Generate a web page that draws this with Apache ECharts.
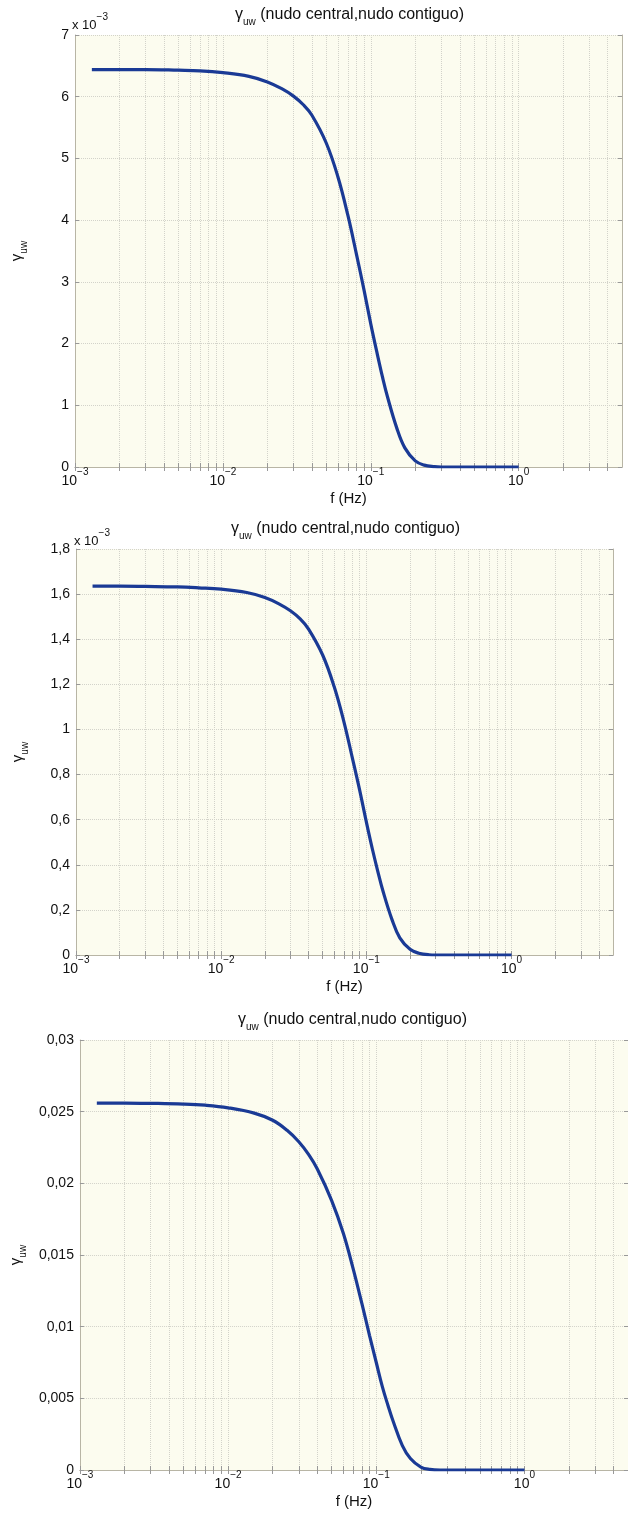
<!DOCTYPE html>
<html>
<head>
<meta charset="utf-8">
<script src="https://cdn.jsdelivr.net/npm/echarts@6/dist/echarts.min.js"></script>
<style>
  html, body { margin: 0; padding: 0; background: #fff; }
  #chart { width: 628px; height: 1514px; }
</style>
</head>
<body>
<div id="chart"></div>
<script>
// frecuencias (Hz), comunes a las tres curvas
const freq = [0.0013, 0.002, 0.003, 0.005, 0.007, 0.01, 0.015, 0.02, 0.025, 0.03, 0.035, 0.04,
  0.05, 0.06, 0.07, 0.08, 0.09, 0.1, 0.11, 0.12, 0.13, 0.15, 0.17, 0.2, 0.23, 0.27, 0.3, 0.5, 1.0];

// panel 1 (x 10^-3)
const gamma1 = [6.44, 6.44, 6.44, 6.43, 6.42, 6.39, 6.33, 6.24, 6.13, 6.01, 5.87, 5.70,
  5.25, 4.70, 4.08, 3.45, 2.87, 2.32, 1.86, 1.46, 1.13, 0.63, 0.31, 0.10, 0.03, 0.005, 0, 0, 0];
// panel 2 (x 10^-3)
const gamma2 = [1.635, 1.635, 1.634, 1.632, 1.628, 1.622, 1.607, 1.585, 1.557, 1.526, 1.49, 1.445,
  1.33, 1.19, 1.035, 0.875, 0.73, 0.59, 0.47, 0.37, 0.285, 0.158, 0.076, 0.025, 0.008, 0.001, 0, 0, 0];
// panel 3
const gamma3 = [0.0256, 0.0256, 0.02558, 0.02553, 0.02545, 0.02527, 0.0249, 0.0244, 0.0237, 0.0229, 0.0220, 0.0210,
  0.0188, 0.0165, 0.0140, 0.0116, 0.0094, 0.0075, 0.0058, 0.0045, 0.0034, 0.0017, 0.0008, 0.0002, 0.00004, 0, 0, 0, 0];

const decadeTicks = [0.001, 0.01, 0.1, 1];
const minorTicks = [0.002, 0.003, 0.004, 0.005, 0.006, 0.007, 0.008, 0.009,
  0.02, 0.03, 0.04, 0.05, 0.06, 0.07, 0.08, 0.09,
  0.2, 0.3, 0.4, 0.5, 0.6, 0.7, 0.8, 0.9, 2, 3, 4];

const yMax = [7, 1.8, 0.03];
const yStep = [1, 0.2, 0.005];

const FONT = '"Liberation Sans", Arial, Helvetica, sans-serif';
const gridColor = '#d3d3ca';
const boxColor = '#b8b5a5';
const lineColor = '#1a3a95';

const grids = [
  { left: 75, top: 35, width: 547, height: 432 },
  { left: 76, top: 549, width: 537, height: 406 },
  { left: 75, top: 1040, width: 560, height: 430 }
];

function decadeLabel(v) {
  const e = Math.round(Math.log10(v));
  if (Math.abs(Math.log10(v) - e) > 1e-6) return '';
  return '{b|10}{s|' + (e < 0 ? '\u2212' : '') + Math.abs(e) + '}';
}
const supRich = {
  b: { fontSize: 14, fontFamily: FONT, color: '#111', lineHeight: 21, verticalAlign: 'bottom' },
  s: { fontSize: 10, fontFamily: FONT, color: '#111', lineHeight: 12, verticalAlign: 'top' }
};
const subRich = {
  g: { fontSize: 16, fontFamily: FONT, fontWeight: 'normal', color: '#111', lineHeight: 20, verticalAlign: 'top' },
  s: { fontSize: 10, fontFamily: FONT, fontWeight: 'normal', color: '#111', lineHeight: 12, verticalAlign: 'bottom' },
  t: { fontSize: 16, fontFamily: FONT, fontWeight: 'normal', color: '#111', lineHeight: 20, verticalAlign: 'top' }
};
const nameRich = {
  g: { fontSize: 15, fontFamily: FONT, color: '#111', lineHeight: 20, verticalAlign: 'top' },
  s: { fontSize: 10, fontFamily: FONT, color: '#111', lineHeight: 12, verticalAlign: 'bottom' }
};
const expRich = {
  b: { fontSize: 13, fontFamily: FONT, fill: '#111', lineHeight: 20, verticalAlign: 'bottom' },
  s: { fontSize: 10, fontFamily: FONT, fill: '#111', lineHeight: 12, verticalAlign: 'top' }
};

const xAxes = [], yAxes = [], series = [], titles = [];
const allData = [gamma1, gamma2, gamma3];

grids.forEach((g, i) => {
  const common = {
    type: 'log', logBase: 10, gridIndex: i, min: 0.001, max: 5,
    axisLine: { show: true, lineStyle: { color: boxColor, width: 1 } },
    axisTick: { show: true, inside: true, length: 4, lineStyle: { color: '#999' },
      customValues: decadeTicks.concat(minorTicks) }
  };
  xAxes.push(Object.assign({}, common, {
    position: 'bottom',
    name: 'f (Hz)', nameLocation: 'middle', nameGap: 24,
    nameTextStyle: { fontSize: 15, fontFamily: FONT, color: '#111' },
    axisLabel: { margin: 0, showMaxLabel: false, formatter: decadeLabel, rich: supRich },
    splitLine: { show: true, lineStyle: { type: 'dotted', color: gridColor } }
  }));
  // eje superior: marcas y rejilla menor
  xAxes.push(Object.assign({}, common, {
    position: 'top', axisLabel: { show: false },
    splitLine: { show: true, customValues: minorTicks, lineStyle: { type: 'dotted', color: gridColor } }
  }));

  const ycommon = {
    type: 'value', gridIndex: i, min: 0, max: yMax[i], interval: yStep[i],
    axisLine: { show: true, lineStyle: { color: boxColor, width: 1 } },
    axisTick: { show: true, inside: true, length: 4, lineStyle: { color: '#999' } }
  };
  yAxes.push(Object.assign({}, ycommon, {
    position: 'left',
    name: '{g|γ}{s|uw}', nameLocation: 'middle', nameGap: 46, nameRotate: 90,
    nameTextStyle: { rich: nameRich },
    axisLabel: { margin: 6, fontSize: 14, fontFamily: FONT, color: '#111',
      formatter: v => String(+v.toFixed(4)).replace('.', ',') },
    splitLine: { show: true, lineStyle: { type: 'dotted', color: gridColor } }
  }));
  yAxes.push(Object.assign({}, ycommon, {
    position: 'right', axisLabel: { show: false }, splitLine: { show: false }
  }));

  titles.push({
    text: '{g|γ}{s|uw}{t| (nudo central,nudo contiguo)}',
    left: g.left + Math.min(g.width, 628 - g.left) / 2 - 4, textAlign: 'center',
    top: g.top - 33,
    textStyle: { fontWeight: 'normal', rich: subRich }
  });

  series.push({
    type: 'line', xAxisIndex: 2 * i, yAxisIndex: 2 * i, z: 3,
    data: freq.map((f, k) => [f, allData[i][k]]),
    smooth: 0.4, showSymbol: false, symbol: 'none',
    lineStyle: { color: lineColor, width: 3.2 }
  });
});

const chart = echarts.init(document.getElementById('chart'));
chart.setOption({
  animation: false,
  backgroundColor: '#ffffff',
  title: titles,
  grid: grids.map(g => Object.assign({ show: true, backgroundColor: '#fcfcef', borderWidth: 0 }, g)),
  xAxis: xAxes,
  yAxis: yAxes,
  graphic: [
    { type: 'text', left: 72, top: 12, style: { text: '{b|x 10}{s|\u22123}', rich: expRich } },
    { type: 'text', left: 74, top: 528, style: { text: '{b|x 10}{s|\u22123}', rich: expRich } }
  ],
  series: series
});
</script>
</body>
</html>
